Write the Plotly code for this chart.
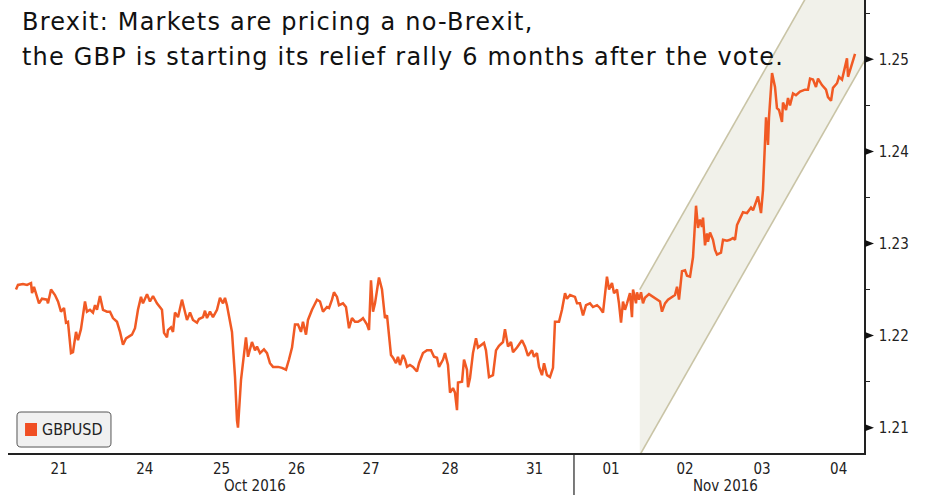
import plotly.graph_objects as go

# GBPUSD intraday, x = trading-day index from the start of the window (Fri 21 Oct 2016)
t_days = [
    0.013, 0.039, 0.105, 0.158, 0.211, 0.224, 0.250, 0.289, 0.316, 0.355, 0.421, 0.434,
    0.474, 0.526, 0.566, 0.605, 0.645, 0.671, 0.697, 0.737, 0.763, 0.803, 0.829, 0.868,
    0.921, 0.947, 0.987, 1.026, 1.053, 1.079, 1.118, 1.158, 1.211, 1.250, 1.289, 1.342,
    1.382, 1.421, 1.461, 1.539, 1.579, 1.618, 1.658, 1.684, 1.737, 1.776, 1.816, 1.868,
    1.934, 1.961, 2.000, 2.013, 2.053, 2.079, 2.105, 2.145, 2.197, 2.224, 2.263, 2.303,
    2.342, 2.395, 2.421, 2.474, 2.500, 2.526, 2.566, 2.605, 2.658, 2.697, 2.737, 2.763,
    2.789, 2.855, 2.895, 2.921, 2.934, 2.974, 3.000, 3.039, 3.066, 3.118, 3.158, 3.184,
    3.224, 3.276, 3.316, 3.355, 3.395, 3.461, 3.513, 3.566, 3.605, 3.645, 3.684, 3.724,
    3.763, 3.789, 3.829, 3.855, 3.908, 3.974, 4.013, 4.053, 4.105, 4.132, 4.171, 4.197,
    4.237, 4.263, 4.316, 4.355, 4.395, 4.434, 4.474, 4.513, 4.553, 4.579, 4.632, 4.658,
    4.684, 4.711, 4.737, 4.789, 4.829, 4.868, 4.895, 4.947, 4.974, 5.013, 5.039, 5.066,
    5.105, 5.132, 5.158, 5.197, 5.237, 5.289, 5.316, 5.368, 5.421, 5.474, 5.513, 5.553,
    5.579, 5.632, 5.658, 5.697, 5.724, 5.763, 5.789, 5.816, 5.829, 5.882, 5.908, 5.947,
    5.961, 5.987, 6.026, 6.066, 6.092, 6.132, 6.171, 6.197, 6.237, 6.289, 6.329, 6.368,
    6.421, 6.447, 6.487, 6.526, 6.553, 6.605, 6.671, 6.711, 6.750, 6.803, 6.829, 6.868,
    6.895, 6.934, 6.961, 7.000, 7.039, 7.079, 7.105, 7.158, 7.197, 7.237, 7.263, 7.303,
    7.368, 7.395, 7.434, 7.474, 7.513, 7.566, 7.605, 7.658, 7.697, 7.737, 7.789, 7.816,
    7.855, 7.882, 7.921, 7.947, 7.974, 8.000, 8.026, 8.053, 8.092, 8.118, 8.132, 8.171,
    8.184, 8.211, 8.237, 8.263, 8.289, 8.342, 8.395, 8.447, 8.487, 8.513, 8.553, 8.592,
    8.645, 8.684, 8.711, 8.737, 8.776, 8.816, 8.842, 8.882, 8.921, 8.961, 8.987, 9.013,
    9.039, 9.053, 9.079, 9.105, 9.118, 9.145, 9.184, 9.211, 9.237, 9.289, 9.316, 9.368,
    9.408, 9.447, 9.474, 9.500, 9.539, 9.579, 9.632, 9.684, 9.711, 9.750, 9.776, 9.816,
    9.842, 9.882, 9.908, 9.921, 9.961, 10.000, 10.026, 10.053, 10.092, 10.105, 10.145, 10.171,
    10.197, 10.237, 10.276, 10.329, 10.395, 10.434, 10.461, 10.500, 10.539, 10.566, 10.618, 10.671,
    10.697, 10.737, 10.763, 10.816, 10.842, 10.882, 10.908, 10.947, 10.961, 11.000, 11.026, 11.053,
]
gbpusd = [
    1.2250, 1.2255, 1.2256, 1.2255, 1.2257, 1.2246, 1.2253, 1.2242, 1.2235, 1.2240, 1.2239, 1.2235,
    1.2250, 1.2244, 1.2237, 1.2226, 1.2230, 1.2214, 1.2215, 1.2181, 1.2182, 1.2204, 1.2195, 1.2207,
    1.2237, 1.2226, 1.2228, 1.2225, 1.2233, 1.2228, 1.2243, 1.2228, 1.2226, 1.2226, 1.2219, 1.2215,
    1.2204, 1.2190, 1.2197, 1.2201, 1.2208, 1.2228, 1.2242, 1.2235, 1.2245, 1.2237, 1.2243, 1.2235,
    1.2228, 1.2203, 1.2198, 1.2206, 1.2209, 1.2204, 1.2225, 1.2220, 1.2239, 1.2230, 1.2217, 1.2225,
    1.2217, 1.2214, 1.2218, 1.2220, 1.2227, 1.2219, 1.2226, 1.2220, 1.2228, 1.2241, 1.2235, 1.2241,
    1.2233, 1.2204, 1.2155, 1.2108, 1.2100, 1.2152, 1.2170, 1.2198, 1.2177, 1.2193, 1.2184, 1.2188,
    1.2181, 1.2185, 1.2181, 1.2170, 1.2166, 1.2166, 1.2165, 1.2163, 1.2174, 1.2187, 1.2212, 1.2212,
    1.2204, 1.2215, 1.2201, 1.2217, 1.2228, 1.2239, 1.2237, 1.2226, 1.2231, 1.2230, 1.2239, 1.2247,
    1.2242, 1.2233, 1.2235, 1.2231, 1.2208, 1.2219, 1.2215, 1.2215, 1.2217, 1.2219, 1.2212, 1.2206,
    1.2260, 1.2226, 1.2235, 1.2263, 1.2250, 1.2219, 1.2222, 1.2179, 1.2176, 1.2170, 1.2177, 1.2168,
    1.2179, 1.2174, 1.2166, 1.2168, 1.2166, 1.2161, 1.2170, 1.2181, 1.2184, 1.2184, 1.2177, 1.2176,
    1.2166, 1.2174, 1.2181, 1.2168, 1.2138, 1.2143, 1.2138, 1.2119, 1.2149, 1.2150, 1.2174, 1.2163,
    1.2144, 1.2154, 1.2181, 1.2197, 1.2187, 1.2190, 1.2192, 1.2184, 1.2155, 1.2157, 1.2184, 1.2189,
    1.2193, 1.2207, 1.2188, 1.2193, 1.2182, 1.2187, 1.2195, 1.2188, 1.2178, 1.2184, 1.2177, 1.2181,
    1.2166, 1.2157, 1.2170, 1.2157, 1.2155, 1.2165, 1.2215, 1.2215, 1.2228, 1.2246, 1.2240, 1.2244,
    1.2242, 1.2235, 1.2235, 1.2222, 1.2233, 1.2235, 1.2231, 1.2233, 1.2230, 1.2225, 1.2264, 1.2250,
    1.2257, 1.2246, 1.2250, 1.2235, 1.2214, 1.2237, 1.2228, 1.2235, 1.2246, 1.2220, 1.2250, 1.2235,
    1.2247, 1.2239, 1.2247, 1.2235, 1.2241, 1.2245, 1.2242, 1.2239, 1.2237, 1.2226, 1.2235, 1.2239,
    1.2242, 1.2244, 1.2253, 1.2239, 1.2270, 1.2271, 1.2265, 1.2264, 1.2285, 1.2341, 1.2317, 1.2326,
    1.2318, 1.2328, 1.2298, 1.2311, 1.2302, 1.2312, 1.2304, 1.2293, 1.2288, 1.2290, 1.2304, 1.2303,
    1.2304, 1.2306, 1.2304, 1.2320, 1.2327, 1.2334, 1.2333, 1.2339, 1.2336, 1.2344, 1.2351, 1.2333,
    1.2358, 1.2437, 1.2407, 1.2437, 1.2485, 1.2470, 1.2447, 1.2445, 1.2432, 1.2453, 1.2445, 1.2458,
    1.2450, 1.2463, 1.2461, 1.2465, 1.2467, 1.2467, 1.2479, 1.2478, 1.2470, 1.2479, 1.2472, 1.2467,
    1.2459, 1.2455, 1.2469, 1.2474, 1.2481, 1.2478, 1.2488, 1.2501, 1.2481, 1.2492, 1.2501, 1.2506,
]

# Trend channel drawn from the 1 Nov low (start and end points of each bound)
channel_t = [8.22, 11.25]
channel_upper = [1.2250, 1.2689]
channel_lower = [1.2070, 1.2509]

# Axis labelling
day_ticks = [0.579, 1.707, 2.717, 3.704, 4.684, 5.724, 6.837, 7.842, 8.816, 9.829, 10.838]
day_labels = ["21", "24", "25", "26", "27", "28", "31", "01", "02", "03", "04"]
month_pos = [3.158, 9.355]
month_labels = ["Oct 2016", "Nov 2016"]
month_break = 7.355
price_ticks = [1.21, 1.22, 1.23, 1.24, 1.25]
price_minor = [1.215, 1.225, 1.235, 1.245, 1.255]

title_lines = [
    "Brexit: Markets are pricing a no-Brexit,",
    "the GBP is starting its relief rally 6 months after the vote.",
]
series_name = "GBPUSD"

ORANGE = "#f15a24"
AXIS = "#222222"
AX_FONT = "Liberation Sans Narrow, DejaVu Sans Condensed, Arial Narrow, sans-serif"

X_RANGE = [-0.092, 11.171]
Y_RANGE = [1.20725, 1.25644]

fig = go.Figure()

# shaded channel band
fig.add_trace(go.Scatter(
    x=[channel_t[0], channel_t[0], channel_t[1], channel_t[1], channel_t[0]],
    y=[channel_lower[0], channel_upper[0], channel_upper[1], channel_lower[1], channel_lower[0]],
    mode="lines", fill="toself", fillcolor="#f1f1ea",
    line=dict(width=0, color="rgba(0,0,0,0)"), hoverinfo="skip", showlegend=False,
))
for bound in (channel_upper, channel_lower):
    fig.add_trace(go.Scatter(
        x=channel_t, y=bound, mode="lines",
        line=dict(color="#c9c4a6", width=1.6), hoverinfo="skip", showlegend=False,
    ))

fig.add_trace(go.Scatter(
    x=t_days, y=gbpusd, mode="lines", name=series_name,
    line=dict(color=ORANGE, width=2.5), showlegend=False,
))

fig.update_layout(
    width=926, height=495,
    margin=dict(l=8, r=62, t=0, b=42),
    paper_bgcolor="white", plot_bgcolor="white",
    showlegend=False,
    xaxis=dict(
        range=X_RANGE, showgrid=False, zeroline=False,
        showline=True, linecolor=AXIS, linewidth=1.5,
        tickvals=day_ticks, ticktext=day_labels, ticks="",
        tickfont=dict(family=AX_FONT, size=15, color="#222"),
        ticklabelstandoff=1,
    ),
    yaxis=dict(
        range=Y_RANGE, side="right", showgrid=False, zeroline=False,
        showline=True, linecolor=AXIS, linewidth=1.5,
        tickvals=price_ticks, ticktext=[f"{v:.2f}" for v in price_ticks], ticks="",
        tickfont=dict(family=AX_FONT, size=15, color="#222"),
        ticklabelstandoff=10,
        minor=dict(tickvals=price_minor, ticks="outside", ticklen=4,
                   tickcolor=AXIS, tickwidth=1.2),
    ),
)

shapes = []
# triangular markers at the major price ticks
for v in price_ticks:
    shapes.append(dict(
        type="path", xref="paper", yref="y", xsizemode="pixel", ysizemode="pixel",
        xanchor=1, yanchor=v, path="M 1 -3.5 L 10 0 L 1 3.5 Z",
        fillcolor="#111", line=dict(width=0),
    ))
# separator between the two months under the axis
shapes.append(dict(
    type="line", xref="x", yref="paper", x0=month_break, x1=month_break,
    y0=0, y1=-0.095, line=dict(color=AXIS, width=1.2),
))

# legend box with rounded corners (paper coordinates)
bx0, bx1, by0, by1 = 0.0105, 0.1203, 0.0132, 0.0905
rx, ry = 0.0047, 0.0088
shapes.append(dict(
    type="path", xref="paper", yref="paper",
    path=(f"M {bx0+rx} {by0} L {bx1-rx} {by0} Q {bx1} {by0} {bx1} {by0+ry} "
          f"L {bx1} {by1-ry} Q {bx1} {by1} {bx1-rx} {by1} "
          f"L {bx0+rx} {by1} Q {bx0} {by1} {bx0} {by1-ry} "
          f"L {bx0} {by0+ry} Q {bx0} {by0} {bx0+rx} {by0} Z"),
    fillcolor="#f0f0f0", line=dict(color="#555", width=1),
))
shapes.append(dict(
    type="rect", xref="paper", yref="paper",
    x0=0.0199, x1=0.0339, y0=0.0375, y1=0.0662,
    fillcolor="#f04e23", line=dict(width=0),
))
fig.update_layout(shapes=shapes)

ann = []
ann.append(dict(
    xref="paper", yref="paper", x=0.0375, y=0.052, xanchor="left", yanchor="middle",
    text=series_name, showarrow=False,
    font=dict(family=AX_FONT, size=16, color="#222"),
))
for pos, lab in zip(month_pos, month_labels):
    ann.append(dict(
        xref="x", yref="paper", x=pos, y=-0.073, xanchor="center", yanchor="middle",
        text=lab, showarrow=False,
        font=dict(family=AX_FONT, size=15, color="#222"),
    ))
for i, line in enumerate(title_lines):
    ann.append(dict(
        xref="paper", yref="paper", x=0.0135, y=[0.951, 0.875][i],
        xanchor="left", yanchor="middle",
        text=f'<span style="letter-spacing:1.2px">{line}</span>', showarrow=False,
        font=dict(family="DejaVu Sans", size=24, color="#111"),
    ))
fig.update_layout(annotations=ann)

fig.write_html("out.html")
